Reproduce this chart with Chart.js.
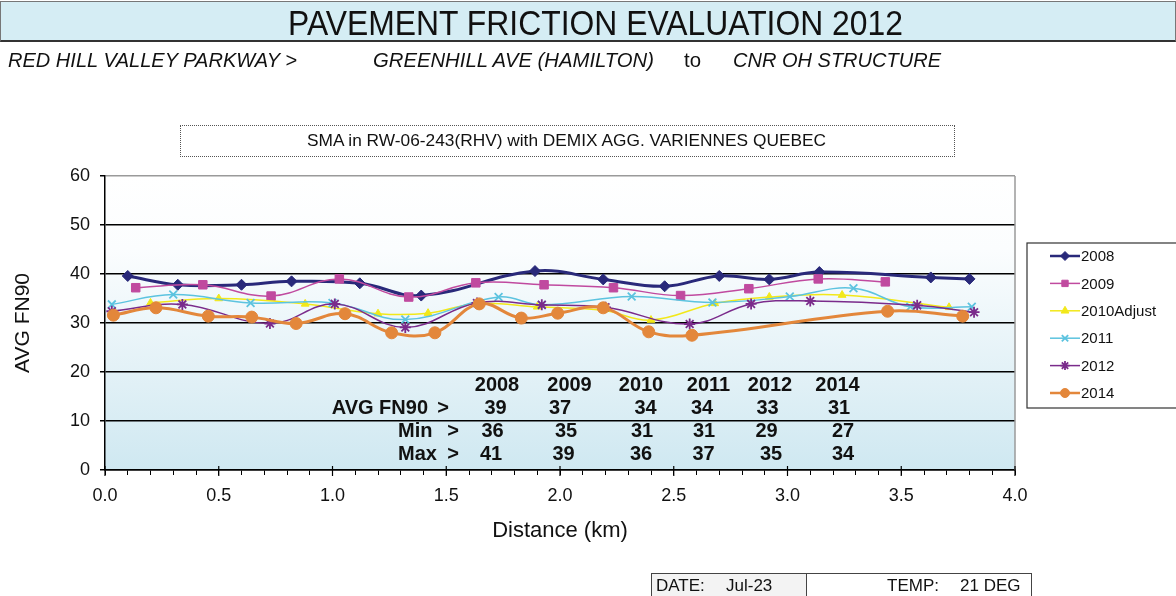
<!DOCTYPE html>
<html>
<head>
<meta charset="utf-8">
<script src="https://cdn.jsdelivr.net/npm/chart.js@4.4.1/dist/chart.umd.min.js"></script>
<style>
html,body{margin:0;padding:0;background:#fff;width:1176px;height:596px;overflow:hidden;font-family:'Liberation Sans',Arial,sans-serif;}
#wrap{position:relative;width:1176px;height:596px;}
#c{position:absolute;left:0;top:0;}
.t{position:absolute;white-space:nowrap;transform-origin:0 50%;color:#111;line-height:1;}
#titlebar{position:absolute;left:0;top:1px;width:1174px;height:38px;background:#d5edf4;border:1px solid #777;border-bottom:2px solid #333;}
#subbox{position:absolute;left:180px;top:125px;width:773px;height:30px;border:1px dotted #555;background:#fff;}
#datebox{position:absolute;left:651px;top:573px;width:379px;height:26px;border:1px solid #444;background:#fff;}
#datecell{position:absolute;left:0;top:0;width:154px;height:26px;background:#f3f3f3;border-right:1px solid #444;}
</style>
</head>
<body>
<div id="wrap">
  <div id="titlebar"></div>
  <div id="subbox"></div>
  <div id="datebox"><div id="datecell"></div></div>
  <canvas id="c" width="1176" height="596"></canvas>
  <div class="t" data-w="615" style="left:288px;top:5px;font-size:35px;">PAVEMENT FRICTION EVALUATION 2012</div>
  <div class="t" data-w="289" style="left:8px;top:49px;font-size:21px;font-style:italic;">RED HILL VALLEY PARKWAY &gt;</div>
  <div class="t" data-w="281" style="left:373px;top:49px;font-size:21px;font-style:italic;">GREENHILL AVE (HAMILTON)</div>
  <div class="t" data-w="17" style="left:684px;top:49px;font-size:21px;">to</div>
  <div class="t" data-w="208" style="left:733px;top:49px;font-size:21px;font-style:italic;">CNR OH STRUCTURE</div>
  <div class="t" data-w="519" style="left:307px;top:132px;font-size:17px;">SMA in RW-06-243(RHV) with DEMIX AGG. VARIENNES QUEBEC</div>
  <div class="t" style="left:656px;top:577px;font-size:17px;">DATE:</div>
  <div class="t" style="left:726px;top:577px;font-size:17px;">Jul-23</div>
  <div class="t" style="left:887px;top:577px;font-size:17px;">TEMP:</div>
  <div class="t" style="left:960px;top:577px;font-size:17px;">21 DEG</div>
</div>
<script>
// ---------- DATA ----------
const seriesNames = ['2008', '2009', '2010Adjust', '2011', '2012', '2014'];

const dist2008 = [0.10, 0.32, 0.60, 0.82, 1.12, 1.39, 1.89, 2.19, 2.46, 2.70, 2.92, 3.14, 3.63, 3.80];
const fn2008   = [39.6, 37.8, 37.8, 38.5, 38.1, 35.6, 40.6, 38.9, 37.5, 39.6, 38.9, 40.4, 39.3, 39.0];

const dist2009 = [0.135, 0.43, 0.73, 1.03, 1.335, 1.63, 1.93, 2.235, 2.53, 2.83, 3.135, 3.43];
const fn2009   = [37.2, 37.8, 35.5, 39.0, 35.3, 38.2, 37.8, 37.2, 35.6, 37.0, 39.0, 38.4];

const dist2010 = [0.20, 0.50, 0.88, 1.20, 1.42, 1.64, 1.90, 2.19, 2.40, 2.68, 2.92, 3.24, 3.71];
const fn2010   = [34.1, 35.0, 33.9, 31.9, 32.0, 34.0, 33.3, 32.6, 30.6, 34.0, 35.3, 35.7, 33.2];

const dist2011 = [0.03, 0.30, 0.64, 1.00, 1.32, 1.73, 1.92, 2.315, 2.67, 3.01, 3.29, 3.54, 3.81];
const fn2011   = [33.8, 35.8, 34.1, 34.1, 30.7, 35.3, 33.7, 35.4, 34.2, 35.4, 37.1, 33.3, 33.3];

const dist2012 = [0.03, 0.34, 0.725, 1.01, 1.32, 1.635, 1.92, 2.20, 2.57, 2.84, 3.10, 3.57, 3.82];
const fn2012   = [32.4, 33.8, 29.9, 33.9, 29.1, 34.1, 33.7, 33.2, 29.8, 33.9, 34.5, 33.6, 32.2];

const dist2014 = [0.037, 0.224, 0.454, 0.645, 0.84, 1.055, 1.26, 1.45, 1.645, 1.83, 1.99, 2.19, 2.39, 2.58, 3.44, 3.77];
const fn2014   = [31.6, 33.1, 31.4, 31.2, 29.9, 31.9, 28.0, 28.0, 33.9, 31.0, 32.0, 33.1, 28.2, 27.5, 32.4, 31.4];

const xTickLabels = ['0.0','0.5','1.0','1.5','2.0','2.5','3.0','3.5','4.0'];
const yTickValues = [0, 10, 20, 30, 40, 50, 60];

const statYears = ['2008', '2009', '2010', '2011', '2012', '2014'];
const statAvg   = [39, 37, 34, 34, 33, 31];
const statMin   = [36, 35, 31, 31, 29, 27];
const statMax   = [41, 39, 36, 37, 35, 34];
const statRowLabels = ['AVG FN90', 'Min', 'Max'];

// ---------- STYLE ----------
const FONT = "'Liberation Sans', Arial, sans-serif";
const styles = [
  {color:'#29297a', point:'rectRot', radius:5.5, lw:3, pbw:1},
  {color:'#c04a9f', point:'rect', radius:6, lw:1.5, pbw:1},
  {color:'#f2e81a', point:'triangle', radius:4.5, lw:1.5, pbw:1},
  {color:'#5cc3df', point:'crossRot', radius:5.5, lw:1.5, pbw:1.8},
  {color:'#7a2b8b', point:'star', radius:5.5, lw:1.5, pbw:1.8},
  {color:'#e3873b', point:'circle', radius:6, lw:3, pbw:1}
];
const dists = [dist2008, dist2009, dist2010, dist2011, dist2012, dist2014];
const fns = [fn2008, fn2009, fn2010, fn2011, fn2012, fn2014];

const datasets = seriesNames.map((name, i) => ({
  label: name,
  data: dists[i].map((x, j) => ({x: x, y: fns[i][j]})),
  borderColor: styles[i].color,
  backgroundColor: styles[i].color,
  pointBackgroundColor: styles[i].color,
  pointBorderColor: styles[i].color,
  pointStyle: styles[i].point,
  pointRadius: styles[i].radius,
  pointBorderWidth: styles[i].pbw,
  borderWidth: styles[i].lw,
  tension: 0.4,
  fill: false,
  order: seriesNames.length - i
}));

function isMajor(v) { return Math.abs(v * 2 - Math.round(v * 2)) < 1e-6; }

const bgPlugin = {
  id: 'bg',
  beforeDraw(chart) {
    const {ctx, chartArea: a} = chart;
    const g = ctx.createLinearGradient(0, a.top, 0, a.bottom);
    g.addColorStop(0, '#ffffff');
    g.addColorStop(0.25, '#fbfdfe');
    g.addColorStop(1, '#cfe8f1');
    ctx.save();
    ctx.fillStyle = g;
    ctx.fillRect(a.left, a.top, a.right - a.left, a.bottom - a.top);
    ctx.restore();
  },
  afterDraw(chart) {
    const {ctx, chartArea: a} = chart;
    const xs = chart.scales.x;
    ctx.save();
    ctx.strokeStyle = '#9a9a9a';
    ctx.lineWidth = 1.5;
    ctx.beginPath();
    ctx.moveTo(a.right, a.top);
    ctx.lineTo(a.right, a.bottom);
    ctx.stroke();
    ctx.strokeStyle = '#000';
    ctx.lineWidth = 1.2;
    xTickLabels.forEach(l => {
      const px = xs.getPixelForValue(parseFloat(l));
      ctx.beginPath();
      ctx.moveTo(px, a.bottom - 4);
      ctx.lineTo(px, a.bottom + 6);
      ctx.stroke();
    });
    ctx.restore();
  }
};

const statsPlugin = {
  id: 'stats',
  afterDatasetsDraw(chart) {
    const ctx = chart.ctx;
    ctx.save();
    ctx.fillStyle = '#111';
    ctx.font = 'bold 20px ' + FONT;
    ctx.textBaseline = 'middle';
    const rowsY = [385, 408, 431, 454];
    const hdrX = [497, 569.5, 641, 708.5, 770, 837.5];
    const avgX = [495.5, 560, 645.5, 702, 767.5, 839];
    const minX = [492.5, 566, 642, 704, 766.5, 843];
    const maxX = [491, 563.5, 641, 703.5, 771, 843];
    ctx.textAlign = 'center';
    statYears.forEach((s, i) => ctx.fillText(s, hdrX[i], rowsY[0]));
    statAvg.forEach((s, i) => ctx.fillText(String(s), avgX[i], rowsY[1]));
    statMin.forEach((s, i) => ctx.fillText(String(s), minX[i], rowsY[2]));
    statMax.forEach((s, i) => ctx.fillText(String(s), maxX[i], rowsY[3]));
    ctx.textAlign = 'right';
    ctx.fillText(statRowLabels[0], 428, rowsY[1]);
    ctx.textAlign = 'left';
    ctx.fillText(statRowLabels[1], 398, rowsY[2]);
    ctx.fillText(statRowLabels[2], 398, rowsY[3]);
    ctx.textAlign = 'center';
    ctx.fillText('>', 443, rowsY[1]);
    ctx.fillText('>', 453, rowsY[2]);
    ctx.fillText('>', 453, rowsY[3]);
    ctx.restore();
  }
};

const legendPlugin = {
  id: 'customLegend',
  afterDraw(chart) {
    const ctx = chart.ctx;
    ctx.save();
    ctx.fillStyle = '#fff';
    ctx.strokeStyle = '#333';
    ctx.lineWidth = 1.2;
    ctx.fillRect(1027, 243, 160, 165);
    ctx.strokeRect(1027, 243, 160, 165);
    chart.data.datasets.forEach((ds, i) => {
      const y = 256 + i * 27.4;
      ctx.strokeStyle = ds.borderColor;
      ctx.lineWidth = Math.min(ds.borderWidth, 2.5);
      ctx.beginPath();
      ctx.moveTo(1050, y);
      ctx.lineTo(1080, y);
      ctx.stroke();
      ctx.fillStyle = ds.pointBackgroundColor;
      ctx.strokeStyle = ds.pointBorderColor;
      ctx.lineWidth = ds.pointBorderWidth;
      Chart.helpers.drawPoint(ctx, {pointStyle: ds.pointStyle, radius: Math.min(ds.pointRadius, 4.5), rotation: 0, borderWidth: ds.pointBorderWidth}, 1065, y);
      ctx.fillStyle = '#111';
      ctx.font = '15px ' + FONT;
      ctx.textAlign = 'left';
      ctx.textBaseline = 'middle';
      ctx.fillText(ds.label, 1081, y + 1);
    });
    ctx.restore();
  }
};

new Chart(document.getElementById('c'), {
  type: 'line',
  data: {datasets: datasets},
  options: {
    responsive: false,
    animation: false,
    devicePixelRatio: 1,
    layout: {padding: {left: 0, top: 176, right: 161, bottom: 0}},
    plugins: {legend: {display: false}, tooltip: {enabled: false}},
    scales: {
      x: {
        type: 'linear', min: 0, max: 4,
        ticks: {
          stepSize: 0.1, maxTicksLimit: 100, autoSkip: false, maxRotation: 0, padding: 10,
          color: '#111', font: {size: 18, family: FONT},
          callback: (v) => isMajor(v) ? xTickLabels[Math.round(v * 2)] : ''
        },
        grid: {drawOnChartArea: false, drawTicks: true, tickLength: 5, color: '#000', lineWidth: 1},
        border: {color: '#000', width: 1.5},
        title: {display: true, text: 'Distance (km)', color: '#111', font: {size: 22, family: FONT}, padding: {top: 0, bottom: 52}},
        afterFit: (s) => { s.height = 126; }
      },
      y: {
        min: 0, max: 60,
        afterBuildTicks: (s) => { s.ticks = yTickValues.map(v => ({value: v})); },
        ticks: {padding: 10, color: '#111', font: {size: 18, family: FONT}},
        grid: {color: (c) => (c.tick && c.tick.value === 60) ? '#9a9a9a' : '#000', tickColor: '#000', lineWidth: 1.5, tickLength: 5, drawTicks: true},
        border: {color: '#000', width: 1.5},
        title: {display: true, text: 'AVG FN90', color: '#111', font: {size: 21, family: FONT}, padding: {top: 11, bottom: 0}},
        afterFit: (s) => { s.width = 105; }
      }
    }
  },
  plugins: [bgPlugin, statsPlugin, legendPlugin]
});

document.querySelectorAll('.t[data-w]').forEach(el => {
  const w = el.getBoundingClientRect().width;
  const target = parseFloat(el.dataset.w);
  if (w > 0) el.style.transform = 'scaleX(' + (target / w).toFixed(4) + ')';
});
</script>
</body>
</html>
